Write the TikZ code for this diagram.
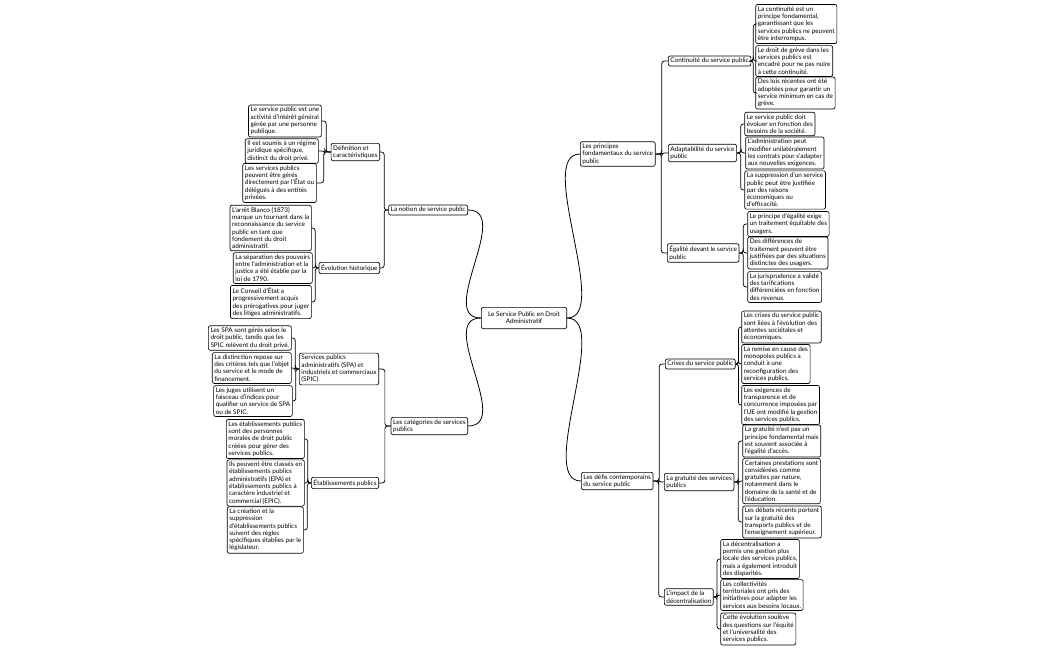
\documentclass[tikz,border=0pt]{standalone}
\usepackage{fontspec}
\setmainfont{Lato}
\usetikzlibrary{calc}
\newcommand{\mmfont}{\fontsize{4.8}{5.45}\selectfont}
\begin{document}
\begin{tikzpicture}[x=0.75pt,y=-0.75pt,
  box/.style={draw, rounded corners=1.5pt, inner sep=1.6pt, align=left, fill=white,
    font=\mmfont, line width=0.5pt},
  rl/.style={box, anchor=west, xshift=2.5pt},
  ll/.style={box, anchor=east, xshift=-2.5pt},
  link/.style={line width=0.55pt, rounded corners=2pt},
  curve/.style={line width=0.6pt}]
\useasboundingbox (0,0) rectangle (1050,650);
% center
\node[box, align=center, minimum width=64pt, minimum height=16pt] (c) at (524,318) {Le Service Public en Droit\\ Administratif};
% left
\node[box, anchor=east] (L1) at (468,210) {La notion de service public};
\node[box, anchor=east] (Def) at (380,152) {Définition et\\ caractéristiques};
\node[ll] (d1) at (325,121) {Le service public est une\\ activité d'intérêt général\\ gérée par une personne\\ publique.};
\node[ll] (d2) at (322,151) {Il est soumis à un régime\\ juridique spécifique,\\ distinct du droit privé.};
\node[ll] (d3) at (320,183) {Les services publics\\ peuvent être gérés\\ directement par l'État ou\\ délégués à des entités\\ privées.};
\node[box, anchor=east] (Evo) at (380,268) {Évolution historique};
\node[ll] (e1) at (315,228) {L'arrêt Blanco (1873)\\ marque un tournant dans la\\ reconnaissance du service\\ public en tant que\\ fondement du droit\\ administratif.};
\node[ll] (e2) at (316,268) {La séparation des pouvoirs\\ entre l'administration et la\\ justice a été établie par la\\ loi de 1790.};
\node[ll] (e3) at (315,302) {Le Conseil d'État a\\ progressivement acquis\\ des prérogatives pour juger\\ des litiges administratifs.};
\node[box, anchor=east] (Cat) at (468,426) {Les catégories de services\\ publics};
\node[box, anchor=east] (SPA) at (379,369) {Services publics\\ administratifs (SPA) et\\ industriels et commerciaux\\ (SPIC)};
\node[ll] (s1) at (295,338) {Les SPA sont gérés selon le\\ droit public, tandis que les\\ SPIC relèvent du droit privé.};
\node[ll] (s2) at (295,368) {La distinction repose sur\\ des critères tels que l'objet\\ du service et le mode de\\ financement.};
\node[ll] (s3) at (296,401) {Les juges utilisent un\\ faisceau d'indices pour\\ qualifier un service de SPA\\ ou de SPIC.};
\node[box, anchor=east] (Etab) at (379,483) {Établissements publics};
\node[ll] (t1) at (308,439) {Les établissements publics\\ sont des personnes\\ morales de droit public\\ créées pour gérer des\\ services publics.};
\node[ll] (t2) at (308,483) {Ils peuvent être classés en\\ établissements publics\\ administratifs (EPA) et\\ établissements publics à\\ caractère industriel et\\ commercial (EPIC).};
\node[ll] (t3) at (307,530) {La création et la\\ suppression\\ d'établissements publics\\ suivent des règles\\ spécifiques établies par le\\ législateur.};
% right
\node[box, anchor=west] (P) at (580,154) {Les principes\\ fondamentaux du service\\ public};
\node[box, anchor=west] (Cont) at (668,61) {Continuité du service public};
\node[rl] (c1) at (752,24) {La continuité est un\\ principe fondamental,\\ garantissant que les\\ services publics ne peuvent\\ être interrompus.};
\node[rl] (c2) at (752,61) {Le droit de grève dans les\\ services publics est\\ encadré pour ne pas nuire\\ à cette continuité.};
\node[rl] (c3) at (752,93) {Des lois récentes ont été\\ adoptées pour garantir un\\ service minimum en cas de\\ grève.};
\node[box, anchor=west] (Adap) at (668,153) {Adaptabilité du service\\ public};
\node[rl] (a1) at (741,124) {Le service public doit\\ évoluer en fonction des\\ besoins de la société.};
\node[rl] (a2) at (742,153) {L'administration peut\\ modifier unilatéralement\\ les contrats pour s'adapter\\ aux nouvelles exigences.};
\node[rl] (a3) at (741,190) {La suppression d'un service\\ public peut être justifiée\\ par des raisons\\ économiques ou\\ d'efficacité.};
\node[box, anchor=west] (Ega) at (667,253) {Égalité devant le service\\ public};
\node[rl] (g1) at (744,224) {Le principe d'égalité exige\\ un traitement équitable des\\ usagers.};
\node[rl] (g2) at (744,253) {Des différences de\\ traitement peuvent être\\ justifiées par des situations\\ distinctes des usagers.};
\node[rl] (g3) at (744,287) {La jurisprudence a validé\\ des tarifications\\ différenciées en fonction\\ des revenus.};
\node[box, anchor=west] (D) at (581,481) {Les défis contemporains\\ du service public};
\node[box, anchor=west] (Cr) at (665,364) {Crises du service public};
\node[rl] (r1) at (738,327) {Les crises du service public\\ sont liées à l'évolution des\\ attentes sociétales et\\ économiques.};
\node[rl] (r2) at (738,364) {La remise en cause des\\ monopoles publics a\\ conduit à une\\ reconfiguration des\\ services publics.};
\node[rl] (r3) at (738,405) {Les exigences de\\ transparence et de\\ concurrence imposées par\\ l'UE ont modifié la gestion\\ des services publics.};
\node[box, anchor=west] (Gr) at (664,482) {La gratuité des services\\ publics};
\node[rl] (q1) at (739,441) {La gratuité n'est pas un\\ principe fondamental mais\\ est souvent associée à\\ l'égalité d'accès.};
\node[rl] (q2) at (739,481) {Certaines prestations sont\\ considérées comme\\ gratuites par nature,\\ notamment dans le\\ domaine de la santé et de\\ l'éducation.};
\node[rl] (q3) at (739,522) {Les débats récents portent\\ sur la gratuité des\\ transports publics et de\\ l'enseignement supérieur.};
\node[box, anchor=west] (Im) at (664,597) {L'impact de la\\ décentralisation};
\node[rl] (i1) at (717,559) {La décentralisation a\\ permis une gestion plus\\ locale des services publics,\\ mais a également introduit\\ des disparités.};
\node[rl] (i2) at (717,595) {Les collectivités\\ territoriales ont pris des\\ initiatives pour adapter les\\ services aux besoins locaux.};
\node[rl] (i3) at (717,629) {Cette évolution soulève\\ des questions sur l'équité\\ et l'universalité des\\ services publics.};
% curves
\foreach \t in {P,D} \draw[curve] (c.east) .. controls +(45,0) and +(-45,0) .. (\t.west);
\foreach \t in {L1,Cat} \draw[curve] (c.west) .. controls +(-45,0) and +(45,0) .. (\t.east);
% right elbows
\foreach \a/\b in {P/Cont,P/Adap,P/Ega,D/Cr,D/Gr,D/Im,
  Cont/c1,Cont/c2,Cont/c3,Adap/a1,Adap/a2,Adap/a3,Ega/g1,Ega/g2,Ega/g3,
  Cr/r1,Cr/r2,Cr/r3,Gr/q1,Gr/q2,Gr/q3,Im/i1,Im/i2,Im/i3}
  \draw[link] (\a.east) -| ($(\a.east)!.5!(\b.west)$) |- (\b.west);
% left elbows
\foreach \a/\b in {L1/Def,L1/Evo,Cat/SPA,Cat/Etab,
  Def/d1,Def/d2,Def/d3,Evo/e1,Evo/e2,Evo/e3,SPA/s1,SPA/s2,SPA/s3,Etab/t1,Etab/t2,Etab/t3}
  \draw[link] (\a.west) -| ($(\a.west)!.5!(\b.east)$) |- (\b.east);
\end{tikzpicture}
\end{document}
